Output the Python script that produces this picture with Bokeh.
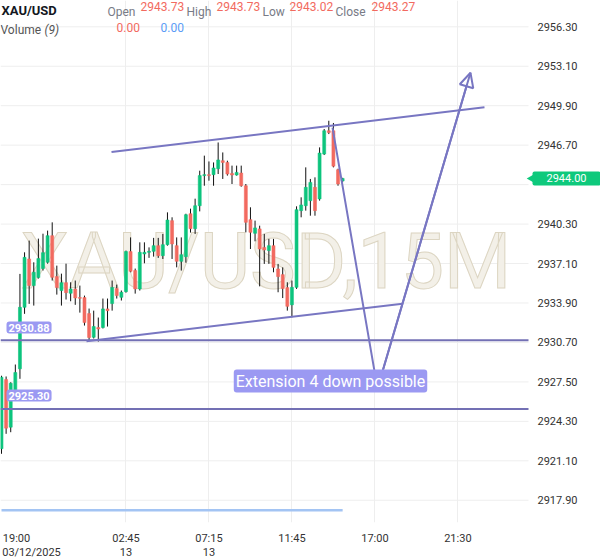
import math
from bokeh.plotting import figure
from bokeh.models import Range1d, FixedTicker, Label, Arrow, NormalHead, ColumnDataSource
from bokeh.core.properties import value
from bokeh.embed import file_html
from bokeh.resources import INLINE

# ---- data (15-minute XAU/USD bars) ----
opens = [2922.08, 2927.69, 2923.83, 2926.40, 2928.56, 2933.55, 2937.47, 2935.31, 2935.96, 2936.69,
         2937.20, 2939.36, 2936.04, 2934.91, 2935.55, 2934.69, 2935.04, 2934.34, 2934.34, 2933.04,
         2931.12, 2931.91, 2931.91, 2933.42, 2933.85, 2935.07, 2934.36, 2934.82, 2938.07, 2936.53,
         2935.04, 2937.88, 2938.01, 2938.09, 2938.55, 2937.74, 2938.63, 2940.58, 2938.55, 2937.28,
         2937.66, 2941.14, 2939.93, 2941.79, 2944.23, 2944.31, 2944.31, 2944.79, 2945.44, 2945.30,
         2944.41, 2944.28, 2944.44, 2943.41, 2940.66, 2939.55, 2939.91, 2938.41, 2938.15, 2938.55,
         2936.66, 2936.20, 2935.15, 2933.75, 2935.17, 2941.39, 2941.79, 2942.20, 2943.28, 2942.34,
         2945.98, 2947.87, 2947.87, 2944.71, 2943.80]
highs = [2928.00, 2927.94, 2927.47, 2928.91, 2936.26, 2938.01, 2938.96, 2937.20, 2939.12, 2939.52,
         2939.77, 2940.44, 2936.93, 2936.28, 2937.09, 2935.58, 2935.72, 2935.31, 2934.50, 2933.45,
         2933.28, 2932.72, 2934.26, 2934.26, 2935.72, 2935.39, 2934.91, 2938.15, 2939.22, 2936.69,
         2938.82, 2938.82, 2938.41, 2939.18, 2939.18, 2939.50, 2941.25, 2940.85, 2939.22, 2939.22,
         2941.14, 2941.55, 2942.36, 2944.63, 2945.85, 2945.38, 2945.30, 2946.92, 2946.11, 2945.44,
         2945.04, 2945.04, 2945.04, 2943.55, 2941.66, 2940.58, 2940.17, 2939.50, 2939.10, 2939.10,
         2937.07, 2936.79, 2935.58, 2935.72, 2941.74, 2942.47, 2944.90, 2943.96, 2944.09, 2946.52,
         2948.01, 2948.68, 2948.50, 2944.79, 2944.05]
lows = [2921.67, 2923.29, 2923.42, 2926.15, 2927.75, 2933.02, 2933.83, 2933.69, 2935.88, 2936.53,
        2937.09, 2935.72, 2934.58, 2933.69, 2934.18, 2934.04, 2933.75, 2933.12, 2932.07, 2930.85,
        2931.02, 2930.77, 2931.83, 2931.99, 2933.28, 2934.26, 2934.10, 2934.74, 2936.39, 2934.66,
        2934.91, 2937.12, 2937.56, 2937.66, 2937.56, 2937.47, 2938.55, 2937.47, 2936.79, 2936.53,
        2937.17, 2939.61, 2939.50, 2941.33, 2943.41, 2943.82, 2943.41, 2944.36, 2943.96, 2944.23,
        2943.55, 2944.23, 2943.33, 2939.63, 2938.28, 2938.90, 2935.25, 2937.07, 2937.07, 2936.39,
        2934.77, 2934.30, 2933.28, 2932.74, 2935.04, 2940.85, 2941.39, 2940.98, 2940.98, 2942.20,
        2945.90, 2947.60, 2944.90, 2943.41, 2943.70]
closes = [2927.88, 2923.75, 2927.39, 2928.26, 2933.55, 2937.60, 2935.31, 2936.39, 2937.50, 2937.98,
          2939.36, 2935.98, 2935.15, 2935.55, 2934.74, 2935.04, 2934.31, 2934.28, 2932.31, 2931.10,
          2931.99, 2931.79, 2933.42, 2933.28, 2935.15, 2934.50, 2934.77, 2938.07, 2936.47, 2935.04,
          2938.01, 2938.01, 2938.09, 2938.55, 2937.74, 2938.63, 2940.63, 2938.69, 2937.28, 2937.82,
          2941.06, 2939.93, 2941.79, 2944.23, 2944.31, 2944.23, 2944.85, 2945.50, 2945.30, 2944.36,
          2944.28, 2944.49, 2943.41, 2940.44, 2939.63, 2939.99, 2938.28, 2938.20, 2938.55, 2936.79,
          2936.04, 2935.07, 2933.63, 2935.17, 2941.47, 2941.85, 2943.28, 2943.68, 2941.39, 2946.06,
          2947.87, 2947.73, 2945.00, 2943.55, 2944.00]
volumes = [0.0] * len(opens)

time_tick_bars = [27, 45, 63, 81, 99]
time_tick_labels = ["02:45\n13", "07:15\n13", "11:45", "17:00", "21:30"]
first_time_label = "19:00" + "\u00a0" * 11 + "\n03/12/2025"
price_ticks = [2917.90, 2921.10, 2924.30, 2927.50, 2930.70, 2933.90, 2937.10, 2940.30,
               2943.50, 2946.70, 2949.90, 2953.10, 2956.30]
last_price = 2944.00

level_a = 2930.88
level_b = 2925.30
upper_trend_bar = [23.86, 104.77]
upper_trend_price = [2946.14, 2949.77]
lower_trend_bar = [18.44, 86.98]
lower_trend_price = [2930.80, 2933.84]
proj_bar = [71.8, 81.56, 101.73]
proj_price = [2948.12, 2926.96, 2952.57]

GREEN = "#0dc47d"
RED = "#f26a60"
PURPLE = "#7876c2"
FONT = "Roboto"

# ---- layout geometry (pixels) ----
FRAME_W, FRAME_H = 600, 522
PX_PER_BAR = 4.61
X0_PX = 1.0                # pixel centre of bar 0
PRICE_TOP_PX = 26.3        # pixel row of 2956.30
PX_PER_USD = 12.33
PLOT_RIGHT_PX = 528        # where the price pane ends and the price scale begins


def bar_at(px):
    return (px - X0_PX) / PX_PER_BAR


def price_at(py):
    return price_ticks[-1] - (py - PRICE_TOP_PX) / PX_PER_USD


idx = list(range(len(opens)))
src = ColumnDataSource(dict(
    x=idx, o=opens, h=highs, l=lows, c=closes,
    top=[max(a, b) for a, b in zip(opens, closes)],
    bot=[min(a, b) for a, b in zip(opens, closes)],
    col=[GREEN if c >= o else RED for o, c in zip(opens, closes)],
    vol=volumes,
))

p = figure(frame_width=FRAME_W, frame_height=FRAME_H, output_backend="svg", toolbar_location=None,
           x_range=Range1d(bar_at(0), bar_at(FRAME_W)),
           y_range=Range1d(price_at(FRAME_H), price_at(0)),
           y_axis_location=None, min_border_left=0, min_border_top=0,
           min_border_right=0, min_border_bottom=0)
p.extra_y_ranges = {"vol": Range1d(-1, 41.4)}
p.outline_line_color = None
p.background_fill_color = "white"
p.border_fill_color = "white"

GRID = "#eeeeee"
first_tick = bar_at(31)
xa = p.xaxis[0]
xa.ticker = FixedTicker(ticks=[first_tick] + time_tick_bars)
xa.major_label_overrides = dict(zip([first_tick] + time_tick_bars, [first_time_label] + time_tick_labels))
xa.axis_line_color = None
xa.major_tick_line_color = None
xa.minor_tick_line_color = None
xa.major_tick_out = 0
xa.major_tick_in = 0
xa.major_label_standoff = 9
xa.major_label_text_line_height = 1.1
xa.major_label_text_font = FONT
xa.major_label_text_font_size = "11px"
xa.major_label_text_color = "#333333"
p.xgrid.ticker = FixedTicker(ticks=time_tick_bars)
p.xgrid.grid_line_color = GRID
p.ygrid.grid_line_color = None

x_left = bar_at(0)
x_right = bar_at(PLOT_RIGHT_PX)

# horizontal grid of the price pane
p.segment(x0=[x_left] * len(price_ticks), x1=[x_right] * len(price_ticks),
          y0=price_ticks, y1=price_ticks, line_color=GRID, line_width=1, level="underlay")

# watermark
p.add_layout(Label(x=20, y=FRAME_H - 261, x_units="screen", y_units="screen",
                   text="XAU/USD,15M", text_font=FONT, text_font_size="77px",
                   text_color="#f3f0e8", text_outline_color="#dcd5c2",
                   text_baseline="middle", level="underlay"))

# volume baseline
p.line("x", "vol", source=src, y_range_name="vol", line_color="#a3c4f3", line_width=2.5)

# candles
p.segment(x0="x", y0="h", x1="x", y1="l", source=src, line_color="#111111", line_width=1)
p.vbar(x="x", width=0.64, top="top", bottom="bot", source=src,
       fill_color="col", line_color="col", line_width=0.6)

# drawings
p.segment(x0=[x_left, x_left], x1=[x_right, x_right], y0=[level_a, level_b], y1=[level_a, level_b],
          line_color="#7370b4", line_width=2)
p.line(upper_trend_bar, upper_trend_price, line_color=PURPLE, line_width=2)
p.line(lower_trend_bar, lower_trend_price, line_color=PURPLE, line_width=2)
p.line(proj_bar, proj_price, line_color=PURPLE, line_width=2)
p.add_layout(Arrow(end=NormalHead(size=14, fill_color=None, line_color=PURPLE, line_width=2),
                   x_start=proj_bar[1], y_start=proj_price[1], x_end=proj_bar[2], y_end=proj_price[2],
                   line_color=PURPLE, line_width=2))

# price scale labels (right)
scale_ticks = [t for t in price_ticks if abs(t - last_price) > 1.0]
p.text(x=[bar_at(537)] * len(scale_ticks), y=scale_ticks, text=[f"{t:.2f}" for t in scale_ticks],
       text_font=value(FONT), text_font_size="11px", text_color="#333333",
       text_baseline="middle", text_align="left")

# last price tag
p.scatter(x=[bar_at(532)], y=[last_price], marker="triangle", angle=math.pi / 2, size=10,
          fill_color="#0ec97c", line_color=None)
p.add_layout(Label(x=bar_at(566), y=last_price, text=f"{last_price:.2f}", text_font=FONT,
                   text_font_size="11px", text_color="white", text_align="center",
                   text_baseline="middle", background_fill_color="#0ec97c", border_radius=2,
                   padding=dict(left=14, right=14, top=3, bottom=3)))


def lab(text, x, ytop, size, color, style="normal", **kw):
    p.add_layout(Label(x=x, y=FRAME_H - ytop, x_units="screen", y_units="screen", text=text,
                       text_font=FONT, text_font_size=f"{size}px", text_color=color,
                       text_baseline="top", text_font_style=style, **kw))


BOX = "#9b99f2"
lab(f"{level_a:.2f}", 6, 321, 11, "white", "bold", background_fill_color=BOX, border_radius=3,
    padding=2)
lab(f"{level_b:.2f}", 6, 389, 11, "white", "bold", background_fill_color=BOX, border_radius=3,
    padding=2)
lab("Extension 4 down possible", 330, 369, 16, "white", text_align="center",
    background_fill_color=BOX, border_radius=3, padding=2)

# header
lab("XAU/USD", 1, 2, 13, "#131722", "bold")
lab("Open", 107, 4, 12, "#787b86")
lab("2943.73", 140, 1, 12, RED)
lab("High", 186, 4, 12, "#787b86")
lab("2943.73", 216, 1, 12, RED)
lab("Low", 262, 4, 12, "#787b86")
lab("2943.02", 289, 1, 12, RED)
lab("Close", 335, 4, 12, "#787b86")
lab("2943.27", 371, 1, 12, RED)
lab("Volume", 0, 22, 12, "#555555")
lab("(9)", 44, 22, 12, "#555555", "italic")
lab("0.00", 116, 22, 12, RED)
lab("0.00", 160, 22, 12, "#5b9cf6")

open("out.html", "w").write(file_html(p, INLINE))
